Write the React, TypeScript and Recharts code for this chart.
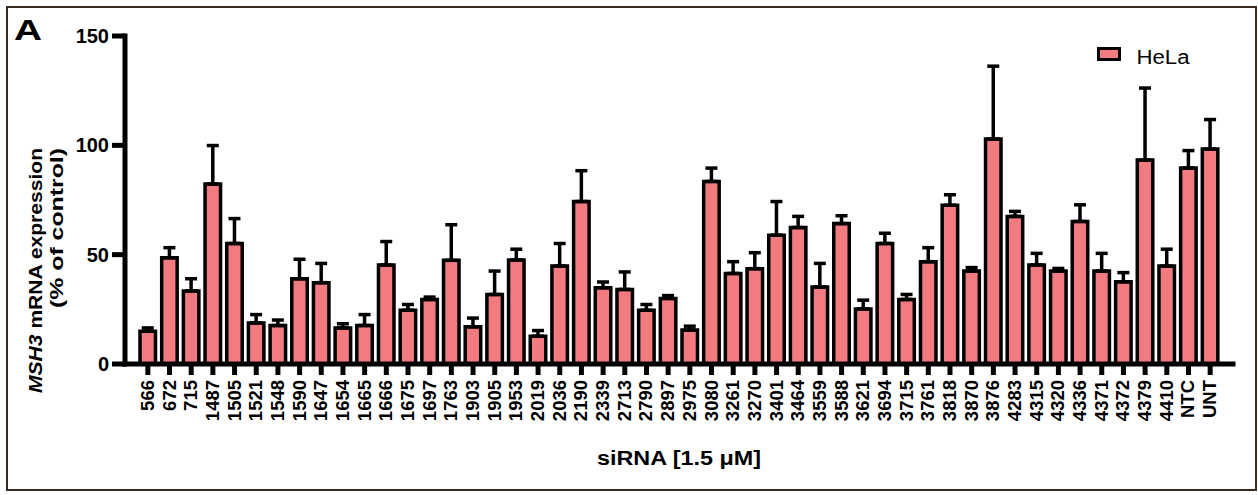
import React from "react";
import { BarChart, Bar, XAxis, YAxis, ErrorBar, Legend } from "recharts";

// siRNA ids along the x axis
const sirnas = [
  "566", "672", "715", "1487", "1505", "1521", "1548", "1590", "1647", "1654",
  "1665", "1666", "1675", "1697", "1763", "1903", "1905", "1953", "2019", "2036",
  "2190", "2339", "2713", "2790", "2897", "2975", "3080", "3261", "3270", "3401",
  "3464", "3559", "3588", "3621", "3694", "3715", "3761", "3818", "3870", "3876",
  "4283", "4315", "4320", "4336", "4371", "4372", "4379", "4410", "NTC", "UNT",
];

// MSH3 mRNA expression, % of control (HeLa)
const helaMean = [
  15, 48.6, 33.4, 82.3, 55.1, 18.8, 17.6, 39, 37.2, 16.5,
  17.6, 45.3, 24.6, 29.5, 47.4, 17, 31.8, 47.6, 12.7, 44.8,
  74.3, 34.9, 34.1, 24.6, 30, 15.5, 83.5, 41.4, 43.6, 58.9,
  62.4, 35.2, 64.2, 25.2, 55.1, 29.5, 46.8, 72.6, 42.5, 102.9,
  67.5, 45.3, 42.5, 65.2, 42.5, 37.6, 93.3, 44.8, 89.6, 98.3,
];

// upper error (SEM)
const helaErr = [
  1.5, 4.6, 5.6, 17.6, 11.4, 3.8, 2.5, 8.9, 8.8, 1.9,
  5, 10.7, 2.6, 1.1, 16.3, 4, 10.7, 4.9, 2.6, 10.3,
  14.1, 2.6, 8, 2.6, 1.3, 1.8, 6.1, 5.4, 7.3, 15.4,
  5.1, 10.8, 3.6, 4, 4.7, 2.3, 6.4, 4.8, 1.6, 33.3,
  2.3, 5.3, 1.2, 7.6, 8.1, 4.2, 32.9, 7.7, 8, 13.5,
];

const yTicks = [0, 50, 100, 150];

const rows = sirnas.map((name, i) => ({
  name,
  hela: helaMean[i],
  err: [0, helaErr[i]],
}));

const FONT = '"Liberation Sans", Arial, Helvetica, sans-serif';
const PINK = "#F27B80";

const XTick = ({ x, y, payload }: any) => (
  <text
    transform={`translate(${x + 6},${y + 5}) rotate(-90)`}
    textAnchor="end"
    fontFamily={FONT}
    fontWeight="bold"
    fontSize={18.5}
    fill="#000"
  >
    {payload.value}
  </text>
);

const YTitle = ({ viewBox }: any) => {
  const cy = viewBox.y + viewBox.height / 2;
  return (
    <g fontFamily={FONT} fontWeight="bold" fontSize={18.5} fill="#000">
      <text
        transform={`translate(${viewBox.x - 23.5},${cy + 70.5}) rotate(-90)`}
        textAnchor="middle"
        textLength={245}
        lengthAdjust="spacingAndGlyphs"
      >
        <tspan fontStyle="italic">MSH3</tspan> mRNA expression
      </text>
      <text
        transform={`translate(${viewBox.x - 2.5},${cy + 28}) rotate(-90)`}
        textAnchor="middle"
        textLength={160}
        lengthAdjust="spacingAndGlyphs"
      >
        (% of control)
      </text>
    </g>
  );
};

const XTitle = ({ viewBox }: any) => (
  <text
    x={viewBox.x + viewBox.width / 2}
    y={465}
    textAnchor="middle"
    fontFamily={FONT}
    fontWeight="bold"
    fontSize={20}
    textLength={164}
    lengthAdjust="spacingAndGlyphs"
    fill="#000"
  >
    siRNA [1.5 μM]
  </text>
);

const LegendBox = () => (
  <svg width={110} height={28}>
    <rect x={4.5} y={6.5} width={21} height={11} fill={PINK} stroke="#000" strokeWidth={3} />
    <text
      x={42.5}
      y={21.5}
      fontFamily={FONT}
      fontSize={20}
      textLength={53}
      lengthAdjust="spacingAndGlyphs"
      fill="#000"
    >
      HeLa
    </text>
  </svg>
);

export default function App() {
  return (
    <div style={{ position: "relative", width: 1258, height: 495, background: "#fff" }}>
      <style>{`body{margin:0}`}</style>
      <div
        style={{
          position: "absolute",
          left: 6,
          top: 6,
          width: 1247,
          height: 481,
          border: "2px solid #3a2a22",
        }}
      />
      <svg style={{ position: "absolute", left: 0, top: 0 }} width={80} height={50}>
        <text
          x={14}
          y={40}
          fontFamily={FONT}
          fontWeight="bold"
          fontSize={30}
          textLength={28}
          lengthAdjust="spacingAndGlyphs"
          fill="#000"
        >
          A
        </text>
      </svg>
      <div style={{ position: "absolute", left: 0, top: 0 }}>
        <BarChart
          width={1258}
          height={495}
          data={rows}
          margin={{ top: 36, right: 25, bottom: 41, left: 65 }}
        >
          <XAxis
            dataKey="name"
            type="category"
            interval={0}
            height={90}
            padding={{ left: 12, right: 12 }}
            axisLine={{ stroke: "#000", strokeWidth: 5, strokeLinecap: "square" }}
            tickLine={{ stroke: "#000", strokeWidth: 5 }}
            tickSize={11}
            tickMargin={0}
            tick={<XTick />}
            label={<XTitle />}
          />
          <YAxis
            width={60}
            domain={[0, 150]}
            ticks={yTicks}
            interval={0}
            axisLine={{ stroke: "#000", strokeWidth: 5, strokeLinecap: "square" }}
            tickLine={{ stroke: "#000", strokeWidth: 5 }}
            tickSize={13}
            tickMargin={3}
            tick={{ fill: "#000", fontSize: 20, fontWeight: "bold", fontFamily: FONT }}
            label={<YTitle />}
          />
          <Legend
            layout="horizontal"
            verticalAlign="middle"
            align="center"
            wrapperStyle={{ top: 42, left: 1094, width: 110, height: 28 }}
            content={() => <LegendBox />}
          />
          <Bar
            dataKey="hela"
            name="HeLa"
            fill={PINK}
            stroke="#000"
            strokeWidth={3.5}
            barSize={15.5}
            isAnimationActive={false}
          >
            <ErrorBar dataKey="err" width={6} stroke="#000" strokeWidth={3.5} direction="y" />
          </Bar>
        </BarChart>
      </div>
    </div>
  );
}
